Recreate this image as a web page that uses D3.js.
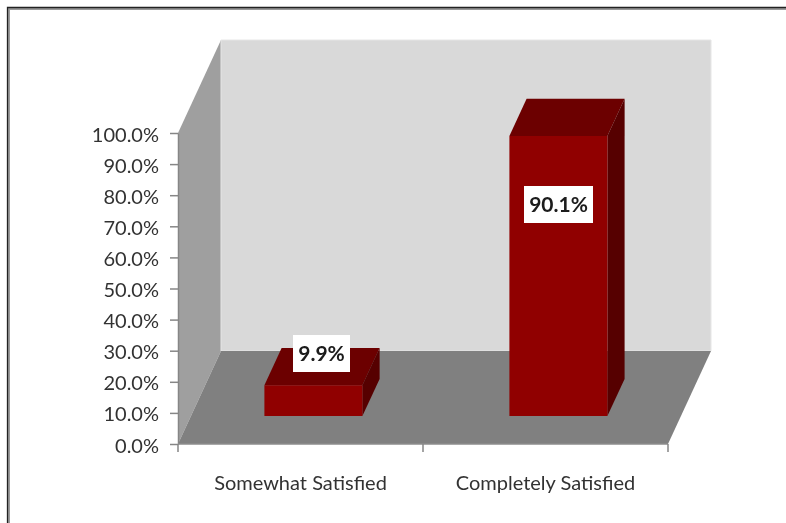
<!DOCTYPE html>
<html>
<head>
<meta charset="utf-8">
<script src="https://d3js.org/d3.v7.min.js"></script>
<style>
html,body{margin:0;padding:0;background:#fff;overflow:hidden}
svg{display:block}
text{font-family:Lato,"Open Sans",sans-serif}
</style>
</head>
<body>
<script>
const categories = ["Somewhat Satisfied", "Completely Satisfied"];
const values = [9.9, 90.1];
const valueLabels = ["9.9%", "90.1%"];
const yTicks = [0, 10, 20, 30, 40, 50, 60, 70, 80, 90, 100];

const W = 786, H = 523;
const x0 = 178, x1 = 668, y0 = 444, y1 = 133;
const depthX = 43, depthY = 93;
const barFront = 0.3, barBack = 0.7, barWidthFrac = 0.4;

const x = d3.scaleBand().domain(categories).range([x0, x1]);
const y = d3.scaleLinear().domain([0, 100]).range([y0, y1]);
const proj = (px, py, d) => [px + d * depthX, py - d * depthY];
const line = pts => "M" + pts.map(p => p.join(",")).join("L") + "Z";

const svg = d3.select("body").append("svg").attr("width", W).attr("height", H);
const defs = svg.append("defs");
defs.append("filter").attr("id", "soft").attr("x", "-5%").attr("y", "-20%").attr("width", "110%").attr("height", "140%")
  .append("feGaussianBlur").attr("stdDeviation", 0.4);

// frame
svg.append("rect").attr("x", 0).attr("y", 0).attr("width", W).attr("height", H).attr("fill", "#fff");
svg.append("path").attr("d", `M8.5,${H}V8.5H${W}`).attr("fill", "none").attr("stroke", "#9a9a9a").attr("stroke-width", 3);
svg.append("path").attr("d", `M7.5,${H}V7.5H${W}`).attr("fill", "none").attr("stroke", "#222").attr("stroke-width", 1.3);

// walls and floor
const g = svg.append("g");
const xEnd = x.range()[1], xStart = x.range()[0];
g.append("path").attr("d", line([proj(xStart, y(0), 0), proj(xStart, y(100), 0), proj(xStart, y(100), 1), proj(xStart, y(0), 1)]))
  .attr("fill", "#9f9f9f");
g.append("path").attr("d", line([proj(xStart, y(0), 1), proj(xStart, y(100), 1), proj(xEnd, y(100), 1), proj(xEnd, y(0), 1)]))
  .attr("fill", "#d9d9d9").attr("stroke", "#e6e6e6").attr("stroke-width", 1);
g.append("path").attr("d", line([proj(xStart, y(0), 0), proj(xStart, y(0), 1), proj(xEnd, y(0), 1), proj(xEnd, y(0), 0)]))
  .attr("fill", "#808080");

// bars
const bw = x.bandwidth();
const bars = g.selectAll("g.bar").data(categories.map((c, i) => ({ c, v: values[i], label: valueLabels[i] })))
  .join("g").attr("class", "bar");
const bl = d => x(d.c) + bw * (1 - barWidthFrac) / 2;
const br = d => bl(d) + bw * barWidthFrac;
bars.append("path").attr("d", d => line([proj(bl(d), y(d.v), barFront), proj(bl(d), y(d.v), barBack), proj(br(d), y(d.v), barBack), proj(br(d), y(d.v), barFront)]))
  .attr("fill", "#6c0000");
bars.append("path").attr("d", d => line([proj(br(d), y(0), barFront), proj(br(d), y(d.v), barFront), proj(br(d), y(d.v), barBack), proj(br(d), y(0), barBack)]))
  .attr("fill", "#560000");
bars.append("path").attr("d", d => line([proj(bl(d), y(0), barFront), proj(bl(d), y(d.v), barFront), proj(br(d), y(d.v), barFront), proj(br(d), y(0), barFront)]))
  .attr("fill", "#900000");

// axes
const yAxis = d3.axisLeft(y).tickValues(yTicks).tickFormat(d => d.toFixed(1) + "%").tickSize(8).tickSizeOuter(0).tickPadding(11);
const ga = svg.append("g").attr("transform", `translate(${x0},0)`).call(yAxis);
ga.select(".domain").attr("stroke", "#868686").attr("stroke-width", 1.5);
ga.selectAll(".tick line").attr("stroke", "#868686").attr("stroke-width", 1.5);
ga.selectAll("text").attr("font-size", 20).attr("fill", "#333").attr("filter", "url(#soft)")
  .style("font-family", "Lato").attr("dy", "0.4em");

const xAxisG = svg.append("g");
const tickPos = [xStart, ...categories.map(c => x(c) + bw)];
xAxisG.append("line").attr("x1", x0).attr("x2", xEnd).attr("y1", y0).attr("y2", y0).attr("stroke", "#8c8c8c").attr("stroke-width", 1.5);
xAxisG.selectAll("line.t").data(tickPos).join("line").attr("class", "t")
  .attr("x1", d => d).attr("x2", d => d).attr("y1", y0).attr("y2", y0 + 8)
  .attr("stroke", "#868686").attr("stroke-width", 1.5);
xAxisG.selectAll("text").data(categories).join("text")
  .attr("x", d => x(d) + bw / 2).attr("y", 490).attr("text-anchor", "middle")
  .attr("font-size", 20).attr("fill", "#333").attr("filter", "url(#soft)").text(d => d);

// data labels
const labelBox = [[293, 335, 57, 37], [524, 186, 69, 37]];
const lab = svg.append("g").selectAll("g").data(valueLabels).join("g");
lab.append("rect").attr("x", (d, i) => labelBox[i][0]).attr("y", (d, i) => labelBox[i][1])
  .attr("width", (d, i) => labelBox[i][2]).attr("height", (d, i) => labelBox[i][3]).attr("fill", "#fff");
lab.append("text").attr("x", (d, i) => labelBox[i][0] + labelBox[i][2] / 2)
  .attr("y", (d, i) => labelBox[i][1] + 26).attr("text-anchor", "middle")
  .attr("font-size", 21).attr("font-weight", 700).attr("fill", "#1a1a1a").attr("filter", "url(#soft)").text(d => d);
</script>
</body>
</html>
